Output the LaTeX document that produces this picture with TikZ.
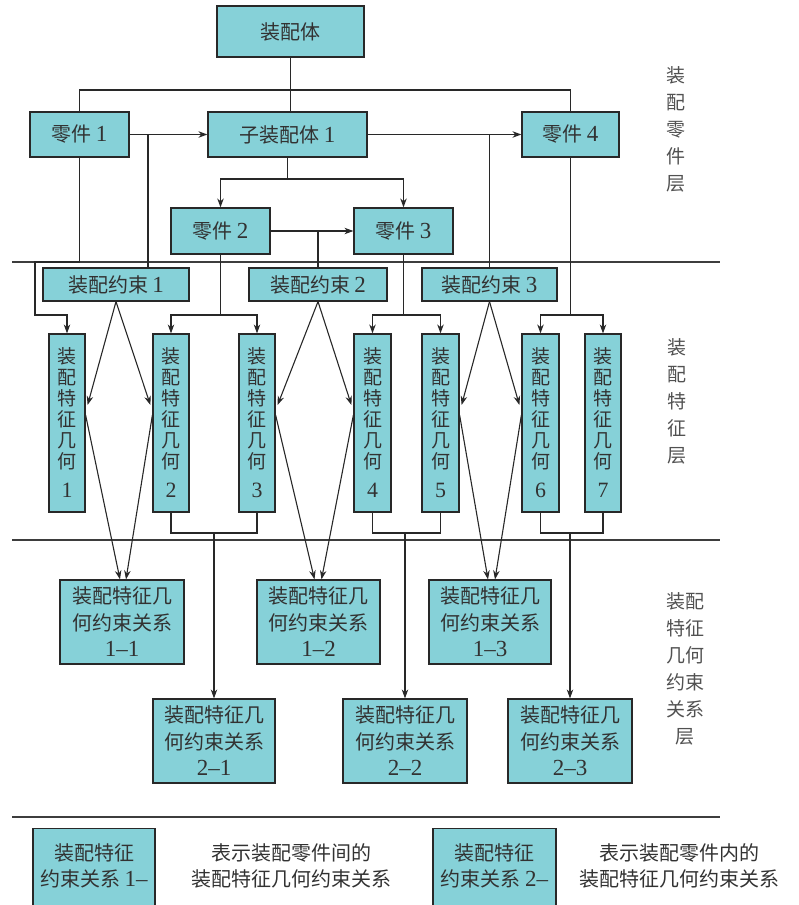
\documentclass[tikz,border=0pt]{standalone}
\usepackage{fontspec}
\setmainfont{Noto Sans CJK SC}
\newfontfamily\numf[Scale=1.15]{Liberation Serif}
\newcommand\nm[1]{{\numf #1}}
\usetikzlibrary{arrows.meta,calc}
\definecolor{boxfill}{RGB}{134,209,216}
\definecolor{edge}{RGB}{40,40,40}
\definecolor{ink}{RGB}{50,50,50}
\begin{document}
\begin{tikzpicture}[x=1pt,y=-1pt,
  box/.style={draw=edge, line width=1.2pt, fill=boxfill, inner sep=0pt, text=ink, align=center, font=\fontsize{20}{26.5}\selectfont},
  geo/.style={box, minimum width=36pt, minimum height=178pt, font=\fontsize{19}{21}\selectfont},
  rel/.style={box, minimum width=123pt, minimum height=84pt},
  con/.style={box, minimum height=33pt},
  ln/.style={draw=edge, line width=1.1pt},
  arr/.style={ln, -{Stealth[length=9pt,width=6.5pt]}},
  layer/.style={draw=edge!90, line width=1.2pt},
  lab/.style={text=ink!85, align=center, font=\fontsize{19}{27}\selectfont},
  lt/.style={text=ink, align=center, font=\fontsize{20}{26}\selectfont}]
\useasboundingbox (0,0) rectangle (799,905);

% layer lines
\draw[layer] (12,262) -- (720,262);
\draw[layer] (12,540) -- (720,540);
\draw[layer] (12,817) -- (720,817);

% part layer
\node[box, minimum width=147pt, minimum height=51pt] (asm) at (290.5,31.5) {装配体};
\node[box, minimum width=99pt, minimum height=45pt] (p1) at (79.5,134.5) {零件 \nm{1}};
\node[box, minimum width=159pt, minimum height=45pt] (sub) at (287.5,134.5) {子装配体 \nm{1}};
\node[box, minimum width=97pt, minimum height=45pt] (p4) at (570.5,134.5) {零件 \nm{4}};
\node[box, minimum width=99pt, minimum height=46pt] (p2) at (220.5,231) {零件 \nm{2}};
\node[box, minimum width=99pt, minimum height=46pt] (p3) at (403.5,231) {零件 \nm{3}};

% constraints
\node[con, minimum width=146pt] (c1) at (116,284.5) {装配约束 \nm{1}};
\node[con, minimum width=138pt] (c2) at (318,284.5) {装配约束 \nm{2}};
\node[con, minimum width=135pt] (c3) at (489.5,284.5) {装配约束 \nm{3}};

% geometry
\node[geo] (g1) at (67,423) {装\\配\\特\\征\\几\\何\\[8pt]\nm{1}};
\node[geo] (g2) at (171,423) {装\\配\\特\\征\\几\\何\\[8pt]\nm{2}};
\node[geo] (g3) at (257,423) {装\\配\\特\\征\\几\\何\\[8pt]\nm{3}};
\node[geo, minimum width=37pt] (g4) at (372.5,423) {装\\配\\特\\征\\几\\何\\[8pt]\nm{4}};
\node[geo, minimum width=37pt] (g5) at (440.5,423) {装\\配\\特\\征\\几\\何\\[8pt]\nm{5}};
\node[geo, minimum width=37pt] (g6) at (540.5,423) {装\\配\\特\\征\\几\\何\\[8pt]\nm{6}};
\node[geo] (g7) at (603,423) {装\\配\\特\\征\\几\\何\\[8pt]\nm{7}};

% relations
\node[rel, minimum width=124pt] (r11) at (122,622) {装配特征几\\何约束关系\\\nm{1–1}};
\node[rel] (r12) at (318.5,622) {装配特征几\\何约束关系\\\nm{1–2}};
\node[rel, minimum width=122pt] (r13) at (490,622) {装配特征几\\何约束关系\\\nm{1–3}};
\node[rel, minimum width=122pt] (r21) at (214,741) {装配特征几\\何约束关系\\\nm{2–1}};
\node[rel, minimum width=124pt] (r22) at (405,741) {装配特征几\\何约束关系\\\nm{2–2}};
\node[rel, minimum width=124pt] (r23) at (570,741) {装配特征几\\何约束关系\\\nm{2–3}};

% layer labels
\node[lab] (L1) at (676,129) {装\\配\\零\\件\\层};
\node[lab] (L2) at (677,401.5) {装\\配\\特\\征\\层};
\node[lab] (L3) at (685,668.5) {装配\\特征\\几何\\约束\\关系\\层};

% connectors: part layer
\coordinate (j0) at (290.5,90);
\draw[ln] (asm.south) -- (asm.south |- sub.north);
\draw[ln] (p1.north) |- (j0) -| (p4.north);
\draw[arr] (p1.east) -- (sub.west);
\coordinate (t1) at (148,134.5);
\draw[ln] (t1) -- (t1 |- c1.north);
\draw[arr] (sub.east) -- (p4.west);
\draw[ln] (c3.north) -- (c3.north |- sub.east);
\coordinate (s1) at (287.5,179);
\draw[ln] (sub.south) -- (s1);
\draw[arr] (s1) -| (p2.north);
\draw[arr] (s1) -| (p3.north);
\draw[arr] (p2.east) -- (p3.west);
\draw[ln] (c2.north) -- (c2.north |- p2.east);

% parts to geometry
\coordinate (k1) at (35,262);
\coordinate (k2) at (35,315);
\draw[arr] (p1.south) |- (k1) -- (k2) -| (g1.north);
\coordinate (q2) at (220.5,315);
\draw[ln] (p2.south) -- (q2);
\draw[arr] (q2) -| (g2.north);
\draw[arr] (q2) -| (g3.north);
\coordinate (q3) at (403.5,315);
\draw[ln] (p3.south) -- (q3);
\draw[arr] (q3) -| (g4.north);
\draw[arr] (q3) -| (g5.north);
\coordinate (q4) at (570.5,315);
\draw[ln] (p4.south) -- (q4);
\draw[arr] (q4) -| (g6.north);
\draw[arr] (q4) -| (g7.north);

% constraints to geometry
\draw[arr] (c1.south) -- ($(g1.east)+(2,-18)$);
\draw[arr] (c1.south) -- ($(g2.west)+(-2,-18)$);
\draw[arr] (c2.south) -- ($(g3.east)+(2,-18)$);
\draw[arr] (c2.south) -- ($(g4.west)+(-2,-18)$);
\draw[arr] (c3.south) -- ($(g5.east)+(2,-18)$);
\draw[arr] (c3.south) -- ($(g6.west)+(-2,-18)$);

% geometry to inter-part relations
\draw[arr] ($(g1.east)+(0,-8)$) -- ($(r11.north)+(-2,0)$);
\draw[arr] ($(g2.west)+(0,-8)$) -- ($(r11.north)+(4,0)$);
\draw[arr] ($(g3.east)+(0,-8)$) -- ($(r12.north)+(-4,0)$);
\draw[arr] ($(g4.west)+(0,-8)$) -- ($(r12.north)+(3,0)$);
\draw[arr] ($(g5.east)+(0,-8)$) -- ($(r13.north)+(-2,0)$);
\draw[arr] ($(g6.west)+(0,-8)$) -- ($(r13.north)+(5,0)$);

% geometry to intra-part relations
\coordinate (m1) at (214,533);
\draw[ln] (g2.south) |- (m1) -| (g3.south);
\draw[arr] (m1) -- (r21.north);
\coordinate (m2) at (405,533);
\draw[ln] (g4.south) |- (m2) -| (g5.south);
\draw[arr] (m2) -- (r22.north);
\coordinate (m3) at (570,533);
\draw[ln] (g6.south) |- (m3) -| (g7.south);
\draw[arr] (m3) -- (r23.north);

% legend
\node[box, minimum width=122pt, minimum height=100pt, anchor=north] (lg1) at (94,828) {};
\node[lt] (lg1t) at (94,866) {装配特征\\约束关系 \nm{1–}};
\node[lt] (d1) at (291,866) {表示装配零件间的\\装配特征几何约束关系};
\node[box, minimum width=123pt, minimum height=100pt, anchor=north] (lg2) at (494.5,828) {};
\node[lt] (lg2t) at (494.5,866) {装配特征\\约束关系 \nm{2–}};
\node[lt] (d2) at (679,866) {表示装配零件内的\\装配特征几何约束关系};
\end{tikzpicture}
\end{document}
